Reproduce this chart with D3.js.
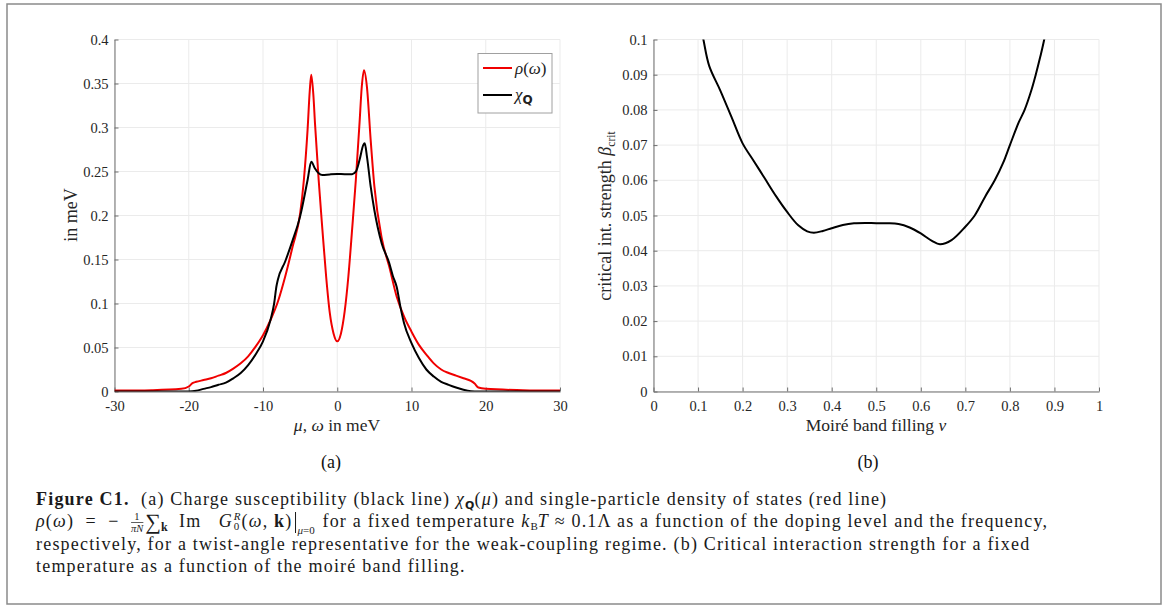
<!DOCTYPE html>
<html>
<head>
<meta charset="utf-8">
<script src="https://cdn.jsdelivr.net/npm/d3@7"></script>
<style>
  body { margin: 0; background: #fff; }
  text { font-family: "Liberation Serif", serif; white-space: pre; }
</style>
</head>
<body>
<svg id="fig" width="1174" height="610"></svg>
<script>
// ---- data ----
// (a) density of states rho(omega), red
const omega = [-30,-25,-21,-20,-19.5,-19,-18,-17,-16,-15,-14,-13,-12,-11,-10,-9,-8,-7,-6,-5,-4.5,-4,-3.7,-3.5,-3.2,-3,-2.5,-2,-1.5,-1,-0.5,0,0.5,1,1.5,2,2.5,3,3.3,3.6,4,4.5,5,6,7,8,9,10,11,12,13,14,15,16,17,18,18.5,19,20,25,30];
const rho = [0.001,0.0015,0.003,0.0057,0.0095,0.011,0.013,0.015,0.018,0.021,0.026,0.032,0.040,0.051,0.064,0.081,0.102,0.131,0.165,0.202,0.240,0.297,0.342,0.360,0.335,0.305,0.240,0.184,0.131,0.089,0.066,0.057,0.066,0.091,0.131,0.184,0.240,0.305,0.346,0.365,0.346,0.286,0.233,0.174,0.142,0.108,0.085,0.068,0.053,0.042,0.032,0.025,0.021,0.018,0.015,0.012,0.009,0.0045,0.003,0.0015,0.001];
// (a) charge susceptibility chi_Q(mu), black
const mu = [-30,-20,-19,-18,-17,-16,-15,-14,-13,-12,-11,-10,-9,-8.5,-8.2,-8,-7,-6,-5,-4,-3.5,-3,-2.5,-2,-1,0,1,2,2.5,3,3.5,3.7,4,4.5,5,6,7,7.5,8,8.5,9,10,11,12,13,14,15,16,17,18,19,30];
const chi = [0,0,0.0008,0.003,0.005,0.0076,0.010,0.015,0.021,0.030,0.042,0.057,0.081,0.100,0.119,0.127,0.148,0.172,0.199,0.240,0.261,0.2535,0.248,0.246,0.2467,0.2471,0.247,0.247,0.2498,0.263,0.280,0.282,0.267,0.233,0.206,0.168,0.146,0.131,0.119,0.0965,0.0776,0.055,0.038,0.025,0.017,0.011,0.0076,0.0045,0.002,0.0004,0,0];
// (b) critical interaction strength vs filling
const filling = [0.10,0.112,0.125,0.15,0.175,0.20,0.225,0.25,0.275,0.30,0.325,0.345,0.36,0.38,0.40,0.425,0.45,0.475,0.50,0.525,0.55,0.575,0.60,0.625,0.643,0.669,0.70,0.721,0.745,0.766,0.785,0.80,0.82,0.833,0.848,0.858,0.868,0.877,0.885];
const betaCrit = [0.108,0.100,0.0925,0.0855,0.0780,0.0705,0.0655,0.0605,0.0555,0.0510,0.0472,0.0455,0.0451,0.0456,0.0464,0.0473,0.0478,0.0479,0.0478,0.0478,0.0476,0.0466,0.0449,0.0428,0.0418,0.0430,0.0468,0.050,0.0555,0.060,0.065,0.070,0.0765,0.080,0.0855,0.090,0.095,0.100,0.106];

// ticks
const xTicksA = [-30,-20,-10,0,10,20,30];
const yTicksA = [0,0.05,0.1,0.15,0.2,0.25,0.3,0.35,0.4];
const xTicksB = [0,0.1,0.2,0.3,0.4,0.5,0.6,0.7,0.8,0.9,1];
const yTicksB = [0,0.01,0.02,0.03,0.04,0.05,0.06,0.07,0.08,0.09,0.1];

const svg = d3.select('#fig');
const fmt = d => String(+d.toFixed(3));

// outer frame
svg.append('rect')
  .attr('x', 7).attr('y', 4).attr('width', 1154).attr('height', 600)
  .attr('fill', 'none').attr('stroke', '#8a8a8a').attr('stroke-width', 1.5);

// draws grid + axes for a panel, returns the scales
function panel(id, xDom, xRange, yDom, xTicks, yTicks) {
  const x = d3.scaleLinear().domain(xDom).range(xRange);
  const y = d3.scaleLinear().domain(yDom).range([391.5, 39.5]);
  const g = svg.append('g');

  // grid
  g.selectAll('.gx').data(xTicks).join('line')
    .attr('x1', d => x(d)).attr('x2', d => x(d))
    .attr('y1', y.range()[0]).attr('y2', y.range()[1])
    .attr('stroke', '#ebebeb');
  g.selectAll('.gy').data(yTicks).join('line')
    .attr('x1', xRange[0]).attr('x2', xRange[1])
    .attr('y1', d => y(d)).attr('y2', d => y(d))
    .attr('stroke', '#ebebeb');

  // clip for the curves
  svg.append('clipPath').attr('id', 'clip' + id)
    .append('rect').attr('x', xRange[0]).attr('y', 39.5)
    .attr('width', xRange[1] - xRange[0]).attr('height', 352);

  // axes, ticks pointing in
  const ax = g.append('g').attr('transform', 'translate(0,391.5)')
    .call(d3.axisBottom(x).tickValues(xTicks).tickFormat(fmt).tickSizeInner(-4).tickSizeOuter(0).tickPadding(9));
  const ay = g.append('g').attr('transform', `translate(${xRange[0]},0)`)
    .call(d3.axisLeft(y).tickValues(yTicks).tickFormat(fmt).tickSizeInner(-4).tickSizeOuter(0).tickPadding(6));
  [ax, ay].forEach(a => {
    a.select('.domain').attr('stroke', '#6e6e6e');
    a.selectAll('.tick line').attr('stroke', '#6e6e6e');
    a.selectAll('.tick text').attr('fill', '#262626')
      .style('font-family', '"Liberation Serif", serif').style('font-size', '14.5px');
  });
  return { x, y, g };
}

// ---- panel (a) ----
const A = panel('a', [-30, 30], [114.5, 560], [0, 0.4], xTicksA, yTicksA);
const lineA = (xs, ys) => d3.line().curve(d3.curveMonotoneX)
  .x((d, i) => A.x(xs[i])).y(d => A.y(d))(ys);

svg.append('path').attr('clip-path', 'url(#clipa)')
  .attr('d', lineA(omega, rho))
  .attr('fill', 'none').attr('stroke', '#f00000').attr('stroke-width', 2);
svg.append('path').attr('clip-path', 'url(#clipa)')
  .attr('d', lineA(mu, chi))
  .attr('fill', 'none').attr('stroke', '#000').attr('stroke-width', 2);

// legend
svg.append('rect').attr('x', 478).attr('y', 53.5).attr('width', 74).attr('height', 59.5)
  .attr('fill', '#fff').attr('stroke', '#a0a0a0');
svg.append('line').attr('x1', 483).attr('x2', 512).attr('y1', 68).attr('y2', 68)
  .attr('stroke', '#f00000').attr('stroke-width', 2);
svg.append('line').attr('x1', 483).attr('x2', 512).attr('y1', 95).attr('y2', 95)
  .attr('stroke', '#000').attr('stroke-width', 2);
const leg1 = svg.append('text').attr('x', 515).attr('y', 74).style('font-size', '17px').attr('fill', '#222');
leg1.append('tspan').style('font-style', 'italic').text('ρ');
leg1.append('tspan').text('(');
leg1.append('tspan').style('font-style', 'italic').text('ω');
leg1.append('tspan').text(')');
const leg2 = svg.append('text').attr('x', 515).attr('y', 100).style('font-size', '17px').attr('fill', '#222');
leg2.append('tspan').style('font-style', 'italic').text('χ');
leg2.append('tspan').attr('dy', 4).style('font-size', '12px')
  .style('font-family', '"DejaVu Sans", sans-serif').style('font-weight', 'bold').text('Q');

// axis labels (a)
const xlabA = svg.append('text').attr('x', 337).attr('y', 431).attr('text-anchor', 'middle')
  .style('font-size', '17.5px').attr('fill', '#262626');
xlabA.append('tspan').style('font-style', 'italic').text('μ');
xlabA.append('tspan').text(', ');
xlabA.append('tspan').style('font-style', 'italic').text('ω');
xlabA.append('tspan').text(' in meV');
svg.append('text').attr('transform', 'translate(77,215) rotate(-90)').attr('text-anchor', 'middle')
  .style('font-size', '18px').attr('fill', '#262626').text('in meV');
svg.append('text').attr('x', 331).attr('y', 468).attr('text-anchor', 'middle')
  .style('font-size', '18px').attr('fill', '#111').text('(a)');

// ---- panel (b) ----
const B = panel('b', [0, 1], [653.5, 1099], [0, 0.1], xTicksB, yTicksB);
svg.append('path').attr('clip-path', 'url(#clipb)')
  .attr('d', d3.line().curve(d3.curveCatmullRom.alpha(0.5))
    .x((d, i) => B.x(filling[i])).y(d => B.y(d))(betaCrit))
  .attr('fill', 'none').attr('stroke', '#000').attr('stroke-width', 2);

svg.append('text').attr('x', 876).attr('y', 431).attr('text-anchor', 'middle')
  .style('font-size', '17.5px').attr('fill', '#262626')
  .call(t => {
    t.append('tspan').text('Moiré band filling ');
    t.append('tspan').style('font-style', 'italic').text('ν');
  });
const ylabB = svg.append('text').attr('transform', 'translate(611,216) rotate(-90)').attr('text-anchor', 'middle')
  .style('font-size', '18px').attr('fill', '#262626');
ylabB.append('tspan').text('critical int. strength ');
ylabB.append('tspan').style('font-style', 'italic').text('β');
ylabB.append('tspan').attr('dy', 4).style('font-size', '11.5px').text('crit');
svg.append('text').attr('x', 868).attr('y', 468).attr('text-anchor', 'middle')
  .style('font-size', '18px').attr('fill', '#111').text('(b)');

// ---- caption ----
const capX = 36, capSize = 18;
function piece(x, y, str, opt = {}) {
  const t = svg.append('text').attr('x', x).attr('y', y)
    .style('font-size', (opt.size || capSize) + 'px').attr('fill', '#1a1a1a')
    .style('letter-spacing', opt.size ? '0px' : '1.2px')
    .style('font-style', opt.italic ? 'italic' : 'normal')
    .style('font-weight', opt.bold ? 'bold' : 'normal')
    .text(str);
  if (opt.family) t.style('font-family', opt.family);
  return t.node().getComputedTextLength();
}
// line 1
let cx = capX, yy = 505;
cx += piece(cx, yy, 'Figure C1.', { bold: true });
cx += piece(cx, yy, '  (a) Charge susceptibility (black line) ');
cx += piece(cx, yy, 'χ', { italic: true });
cx += piece(cx, yy + 4, 'Q', { size: 11, bold: true, family: '"DejaVu Sans", sans-serif' });
cx += piece(cx, yy, '(');
cx += piece(cx, yy, 'μ', { italic: true });
cx += piece(cx, yy, ') and single-particle density of states (red line)');

// line 2 with the formula
cx = capX; yy = 527;
cx += piece(cx, yy, 'ρ', { italic: true });
cx += piece(cx, yy, '(');
cx += piece(cx, yy, 'ω', { italic: true });
cx += piece(cx, yy, ')  =  −  ');
// fraction 1/(pi N)
const wDen = piece(cx, yy + 5, 'πN', { size: 10.5, italic: true });
piece(cx + wDen / 2 - 3, yy - 7, '1', { size: 10.5 });
svg.append('line').attr('x1', cx).attr('x2', cx + wDen).attr('y1', yy - 4.5).attr('y2', yy - 4.5)
  .attr('stroke', '#1a1a1a').attr('stroke-width', 0.7);
cx += wDen + 2;
cx += piece(cx, yy + 2, '∑', { size: 22 });
cx += piece(cx, yy + 4, 'k', { size: 12, bold: true });
cx += piece(cx, yy, '  Im   ');
cx += piece(cx, yy, 'G', { italic: true });
const wsup = piece(cx + 1, yy - 7, 'R', { size: 11, italic: true });
const wsub = piece(cx + 1, yy + 3, '0', { size: 11 });
cx += Math.max(wsup, wsub) + 2;
cx += piece(cx, yy, '(');
cx += piece(cx, yy, 'ω', { italic: true });
cx += piece(cx, yy, ', ');
cx += piece(cx, yy, 'k', { bold: true });
cx += piece(cx, yy, ')');
svg.append('line').attr('x1', cx + 3).attr('x2', cx + 3).attr('y1', yy - 15).attr('y2', yy + 6)
  .attr('stroke', '#1a1a1a').attr('stroke-width', 1);
cx += 5;
const sub0 = svg.append('text').attr('x', cx).attr('y', yy + 7)
  .style('font-size', '11px').attr('fill', '#1a1a1a');
sub0.append('tspan').style('font-style', 'italic').text('μ');
sub0.append('tspan').text('=0');
cx += sub0.node().getComputedTextLength() + 2;
cx += piece(cx, yy, ' for a fixed temperature ');
cx += piece(cx, yy, 'k', { italic: true });
cx += piece(cx, yy + 3, 'B', { size: 11 });
cx += piece(cx, yy, 'T', { italic: true });
cx += piece(cx, yy, ' ≈ 0.1Λ as a function of the doping level and the frequency,');

// lines 3, 4
piece(capX, 550, 'respectively, for a twist-angle representative for the weak-coupling regime. (b) Critical interaction strength for a fixed');
piece(capX, 572, 'temperature as a function of the moiré band filling.');
</script>
</body>
</html>
